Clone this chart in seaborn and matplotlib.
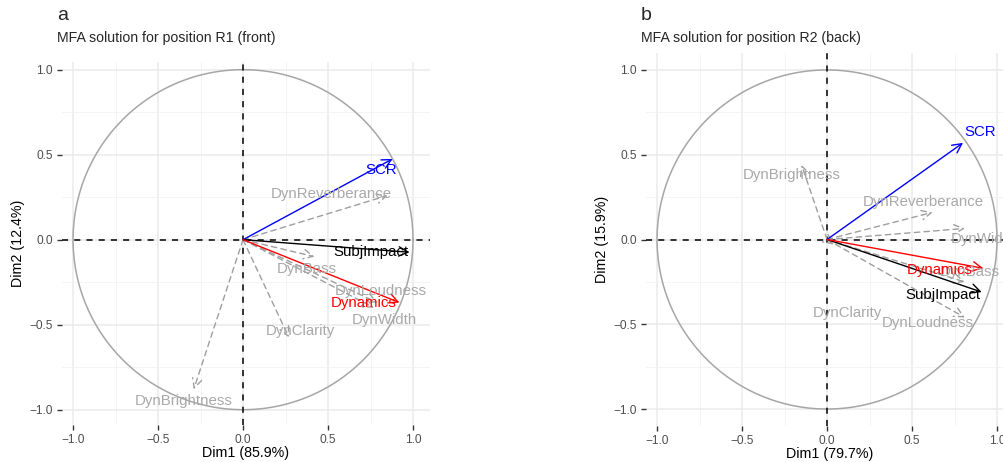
import numpy as np
import pandas as pd
import matplotlib
matplotlib.use("Agg")
import matplotlib.pyplot as plt
import seaborn as sns

# variables shown on both correlation circles
variables = ["SCR", "SubjImpact", "Dynamics", "DynReverberance", "DynBass",
             "DynLoudness", "DynWidth", "DynClarity", "DynBrightness"]
groups = ["SCR", "SubjImpact", "Dynamics", "Dyn", "Dyn", "Dyn", "Dyn", "Dyn", "Dyn"]

# panel a: position R1 (front)
r1_dim1 = [0.88, 0.98, 0.92, 0.85, 0.42, 0.79, 0.77, 0.27, -0.29]
r1_dim2 = [0.475, -0.074, -0.37, 0.26, -0.10, -0.37, -0.40, -0.575, -0.88]
r1_lab_x = [0.815, 0.75, 0.71, 0.52, 0.376, 0.81, 0.83, 0.335, -0.35]
r1_lab_y = [0.41, -0.074, -0.375, 0.27, -0.17, -0.30, -0.475, -0.535, -0.947]

# panel b: position R2 (back)
r2_dim1 = [0.80, 0.91, 0.92, 0.62, 0.81, 0.81, 0.81, 0.04, -0.15]
r2_dim2 = [0.57, -0.31, -0.17, 0.16, -0.25, -0.46, 0.065, -0.03, 0.44]
r2_lab_x = [0.90, 0.68, 0.665, 0.565, 0.84, 0.59, 0.92, 0.12, -0.205]
r2_lab_y = [0.634, -0.33, -0.18, 0.22, -0.19, -0.49, 0.0, -0.435, 0.38]

panels = [
    ("a", "MFA solution for position R1 (front)", "Dim1 (85.9%)", "Dim2 (12.4%)",
     r1_dim1, r1_dim2, r1_lab_x, r1_lab_y),
    ("b", "MFA solution for position R2 (back)", "Dim1 (79.7%)", "Dim2 (15.9%)",
     r2_dim1, r2_dim2, r2_lab_x, r2_lab_y),
]

line_col = {"SCR": "#0000FF", "SubjImpact": "#000000", "Dynamics": "#FF0000", "Dyn": "#9E9E9E"}
text_col = {"SCR": "#0000FF", "SubjImpact": "#000000", "Dynamics": "#FF0000", "Dyn": "#A9A9A9"}

sns.set_theme(style="whitegrid")
plt.rcParams["font.family"] = ["Liberation Sans", "DejaVu Sans"]

W, H = 1004, 462
fig = plt.figure(figsize=(W / 100, H / 100), dpi=100)

# pixel boxes (left, top, right, bottom) and limits for each panel
boxes = [(62, 62, 430, 425), (646, 53, 1014, 426)]
ylims = [(-1.09, 1.045), (-1.1, 1.1)]

theta = np.linspace(0, 2 * np.pi, 400)
circle = pd.DataFrame({"x": np.cos(theta), "y": np.sin(theta)})

for (tag, sub, xl, yl, dx, dy, lx, ly), box, ylim in zip(panels, boxes, ylims):
    l, t, r, b = box
    ax = fig.add_axes([l / W, 1 - b / H, (r - l) / W, (b - t) / H])
    ax.set_xlim(-1.065, 1.10)
    ax.set_ylim(*ylim)

    ax.set_facecolor("white")
    for s in ax.spines.values():
        s.set_visible(False)
    ax.set_xticks([-1.0, -0.5, 0.0, 0.5, 1.0])
    ax.set_yticks([-1.0, -0.5, 0.0, 0.5, 1.0])
    ax.set_xticks([-0.75, -0.25, 0.25, 0.75], minor=True)
    ax.set_yticks([-0.75, -0.25, 0.25, 0.75], minor=True)
    ax.grid(True, which="major", color="#EBEBEB", linewidth=1.1)
    ax.grid(True, which="minor", color="#F2F2F2", linewidth=0.6)
    ax.tick_params(which="major", length=3.5, width=1.0, color="#333333",
                   labelsize=8.6, labelcolor="#4D4D4D", pad=3, bottom=True, left=True)
    ax.tick_params(which="minor", length=0)
    ax.set_axisbelow(True)

    sns.lineplot(data=circle, x="x", y="y", sort=False, estimator=None,
                 color="#A6A6A6", linewidth=1.1, ax=ax)
    ax.axhline(0, color="black", linestyle=(0, (4, 4)), linewidth=1.1)
    ax.axvline(0, color="black", linestyle=(0, (4, 4)), linewidth=1.1)

    # grey supplementary arrows first, active ones on top
    order = sorted(range(len(variables)), key=lambda i: groups[i] != "Dyn")
    for i in order:
        g = groups[i]
        dashed = g == "Dyn"
        ax.annotate("", xy=(dx[i], dy[i]), xytext=(0, 0),
                    arrowprops=dict(arrowstyle="->,head_length=0.55,head_width=0.28",
                                    color=line_col[g], lw=1.0,
                                    linestyle=(0, (4, 3)) if dashed else "-",
                                    shrinkA=0, shrinkB=0))
    for i in order:
        g = groups[i]
        ax.text(lx[i], ly[i], variables[i], color=text_col[g], fontsize=10.8,
                ha="center", va="center", clip_on=False)

    ax.set_xlabel(xl, fontsize=10.3, color="black", labelpad=0)
    ax.set_ylabel(yl, fontsize=10.3, color="black", labelpad=3)

    fig.text((l - 5) / W, 1 - 15 / H, tag, fontsize=14, ha="left", va="center")
    fig.text((l - 5) / W, 1 - 38 / H, sub, fontsize=10.2, ha="left", va="center")

fig.savefig("out.png", dpi=100)
